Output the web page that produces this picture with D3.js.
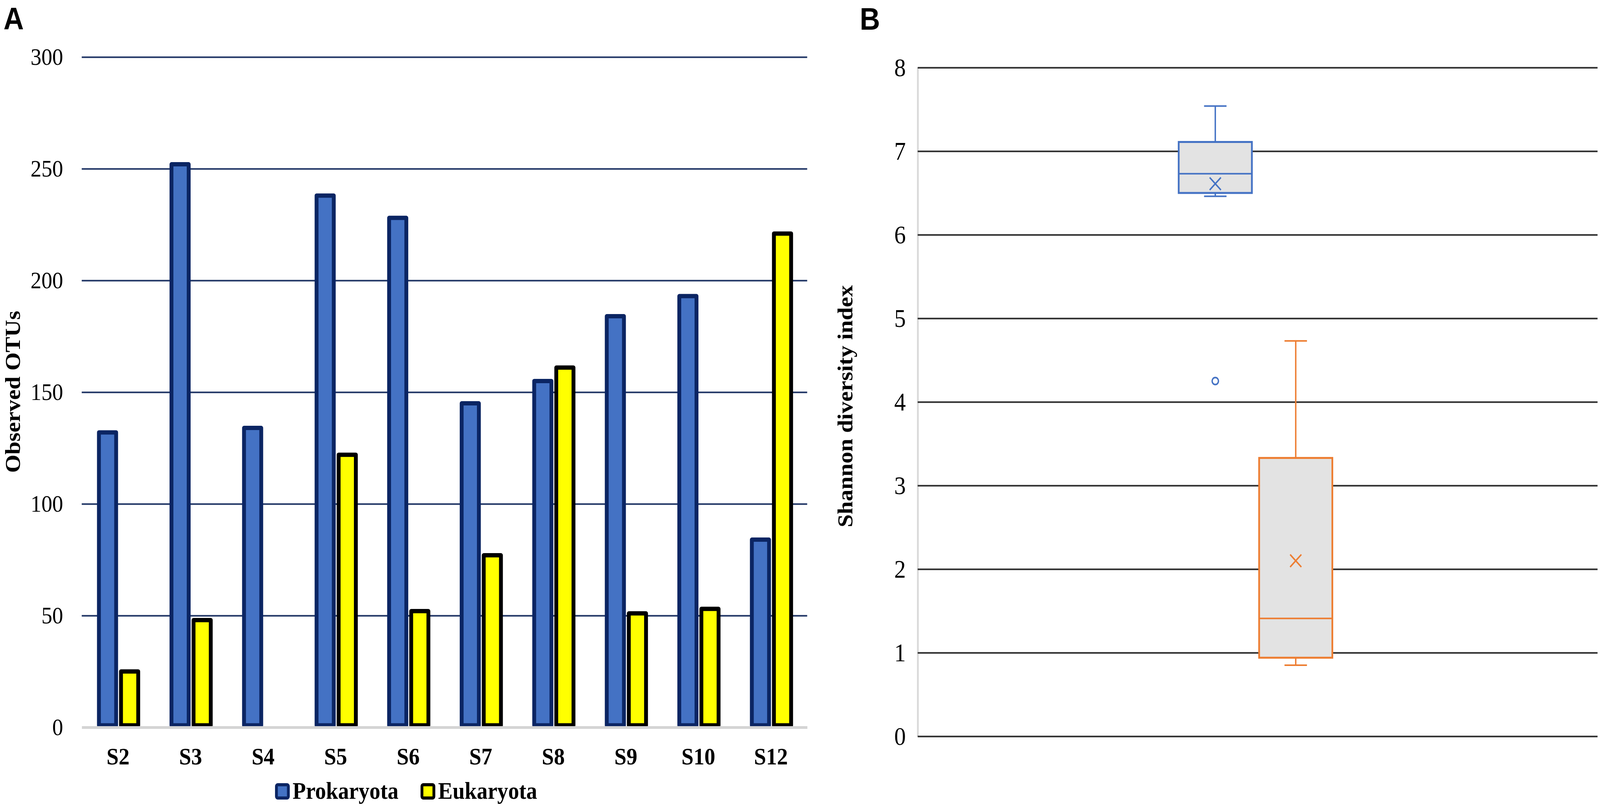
<!DOCTYPE html>
<html lang="en">
<head>
    <meta charset="UTF-8">
    <title>OTUs and Shannon index</title>
    <script src="https://cdn.jsdelivr.net/npm/d3@7"></script>
    <style>
        html, body {
            margin: 0;
            padding: 0;
            overflow: hidden;
            background: #fff;
        }

        svg {
            display: block;
            width: 100vw;
            height: 100vh;
        }

        svg text {
            font-family: "Liberation Serif", "Times New Roman", serif;
            fill: #000;
        }

        svg .panel-tag {
            font-family: "Liberation Sans", Arial, sans-serif;
            font-weight: bold;
            font-size: 80px;
        }

        svg .axis-title {
            font-weight: bold;
            font-size: 60px;
        }
    </style>
</head>
<body>
    <svg viewBox="0 0 4561 2066" preserveAspectRatio="none"></svg>
    <script>
        // panel A data
        var samples = ['S2', 'S3', 'S4', 'S5', 'S6', 'S7', 'S8', 'S9', 'S10', 'S12'];
        var groups = ['Prokaryota', 'Eukaryota'];
        var prokaryota = [132, 252, 134, 238, 228, 145, 155, 184, 193, 84];
        var eukaryota = [25, 48, 0, 122, 52, 77, 161, 51, 53, 221];
        var otuTicks = [0, 50, 100, 150, 200, 250, 300];

        // panel B data (box plot stats)
        var boxMin = [6.46, 0.85];
        var boxQ1 = [6.50, 0.94];
        var boxMedian = [6.73, 1.41];
        var boxQ3 = [7.11, 3.33];
        var boxMax = [7.54, 4.73];
        var boxMean = [6.61, 2.10];
        var outliers = [{ group: 'Prokaryota', value: 4.25 }];
        var shannonTicks = [0, 1, 2, 3, 4, 5, 6, 7, 8];

        var fillColor = { Prokaryota: '#4472c4', Eukaryota: '#ffff00' };
        var edgeColor = { Prokaryota: '#0b2563', Eukaryota: '#000000' };
        var boxColor = { Prokaryota: '#4472c4', Eukaryota: '#ed7d31' };

        var svg = d3.select('svg');

        // ---------- panel A ----------
        var aLeft = 233, aRight = 2301, aTop = 146, aBottom = 1862;

        var x0 = d3.scaleBand().domain(samples).range([aLeft, aRight]);
        var x1 = d3.scaleBand().domain(groups).range([49, 161]).paddingInner(0.22);
        var yA = d3.scaleLinear().domain([0, 300]).range([aBottom, aTop]);

        svg.append('text').attr('class', 'panel-tag').attr('x', 10).attr('y', 75).text('A');

        var gridA = svg.append('g')
            .attr('transform', 'translate(' + aLeft + ',0)')
            .call(d3.axisLeft(yA).tickValues(otuTicks).tickSize(-(aRight - aLeft)).tickPadding(53));
        gridA.select('.domain').remove();
        gridA.selectAll('.tick line')
            .attr('stroke-width', 4)
            .attr('stroke', function(d) { return d === 0 ? 'none' : '#1f3464'; });
        gridA.selectAll('.tick text')
            .attr('font-size', 62)
            .attr('font-family', '"Liberation Serif", serif')
            .attr('fill', '#000');

        var rows = samples.map(function(s, i) {
            return { sample: s, Prokaryota: prokaryota[i], Eukaryota: eukaryota[i] };
        });

        var barGroups = svg.append('g').selectAll('g')
            .data(rows)
            .enter().append('g')
            .attr('transform', function(d) { return 'translate(' + x0(d.sample) + ',0)'; });

        // bottom edge kept a little above the axis so the stroke sits on it
        barGroups.selectAll('rect')
            .data(function(d) {
                return groups.map(function(g) { return { group: g, value: d[g] }; })
                    .filter(function(e) { return e.value > 0; });
            })
            .enter().append('rect')
            .attr('x', function(d) { return x1(d.group); })
            .attr('width', x1.bandwidth())
            .attr('y', function(d) { return yA(d.value); })
            .attr('height', function(d) { return yA(0) - yA(d.value) - 5; })
            .attr('fill', function(d) { return fillColor[d.group]; })
            .attr('stroke', function(d) { return edgeColor[d.group]; })
            .attr('stroke-width', 11)
            .attr('stroke-linejoin', 'round');

        var xAxisA = svg.append('g')
            .attr('transform', 'translate(0,' + aBottom + ')')
            .call(d3.axisBottom(x0).tickSize(0).tickSizeOuter(0).tickPadding(51));
        xAxisA.select('.domain')
            .attr('stroke', '#d4d4d4')
            .attr('stroke-width', 7);
        xAxisA.selectAll('.tick text')
            .attr('font-size', 62)
            .attr('font-weight', 'bold')
            .attr('font-family', '"Liberation Serif", serif')
            .attr('fill', '#000');

        svg.append('text')
            .attr('class', 'axis-title')
            .attr('transform', 'translate(57,1003) rotate(-90)')
            .attr('text-anchor', 'middle')
            .text('Observed OTUs');

        // legend
        var legend = svg.append('g');
        var lx = 788;
        groups.forEach(function(g) {
            legend.append('rect')
                .attr('x', lx).attr('y', 2009)
                .attr('width', 34).attr('height', 34)
                .attr('rx', 4)
                .attr('fill', fillColor[g])
                .attr('stroke', edgeColor[g])
                .attr('stroke-width', 8);
            var t = legend.append('text')
                .attr('x', lx + 46).attr('y', 2045)
                .attr('font-size', 62)
                .attr('font-weight', 'bold')
                .text(g);
            lx += 46 + t.node().getComputedTextLength() + 67;
        });

        // ---------- panel B ----------
        var bLeft = 2616, bRight = 4554, bTop = 173, bBottom = 1885;

        var yB = d3.scaleLinear().domain([0, 8]).range([bBottom, bTop]);
        var xB = d3.scaleBand().domain(groups).range([3360, 3798]).paddingInner(0.09);

        svg.append('text').attr('class', 'panel-tag').attr('x', 2451).attr('y', 76).text('B');

        var gridB = svg.append('g')
            .attr('transform', 'translate(' + bLeft + ',0)')
            .call(d3.axisLeft(yB).tickValues(shannonTicks).tickSize(-(bRight - bLeft)).tickSizeOuter(0).tickPadding(34));
        gridB.select('.domain')
            .attr('stroke', '#d9d9d9')
            .attr('stroke-width', 5);
        gridB.selectAll('.tick line')
            .attr('stroke', '#2b2b2b')
            .attr('stroke-width', 4);
        gridB.selectAll('.tick text')
            .attr('font-size', 66)
            .attr('font-family', '"Liberation Serif", serif')
            .attr('fill', '#000');

        svg.append('text')
            .attr('class', 'axis-title')
            .attr('transform', 'translate(2430,1040) rotate(-90)')
            .attr('text-anchor', 'middle')
            .text('Shannon diversity index');

        var stats = groups.map(function(g, i) {
            return { group: g, min: boxMin[i], q1: boxQ1[i], median: boxMedian[i], q3: boxQ3[i], max: boxMax[i], mean: boxMean[i] };
        });

        var boxes = svg.append('g').selectAll('g')
            .data(stats)
            .enter().append('g')
            .attr('stroke', function(d) { return boxColor[d.group]; })
            .attr('fill', 'none');

        var bw = xB.bandwidth();
        var cap = 32;

        // whiskers
        boxes.append('line')
            .attr('x1', function(d) { return xB(d.group) + bw / 2; })
            .attr('x2', function(d) { return xB(d.group) + bw / 2; })
            .attr('y1', function(d) { return yB(d.max); })
            .attr('y2', function(d) { return yB(d.q3); })
            .attr('stroke-width', 4);
        boxes.append('line')
            .attr('x1', function(d) { return xB(d.group) + bw / 2; })
            .attr('x2', function(d) { return xB(d.group) + bw / 2; })
            .attr('y1', function(d) { return yB(d.q1); })
            .attr('y2', function(d) { return yB(d.min); })
            .attr('stroke-width', 4);
        ['max', 'min'].forEach(function(k) {
            boxes.append('line')
                .attr('x1', function(d) { return xB(d.group) + bw / 2 - cap; })
                .attr('x2', function(d) { return xB(d.group) + bw / 2 + cap; })
                .attr('y1', function(d) { return yB(d[k]); })
                .attr('y2', function(d) { return yB(d[k]); })
                .attr('stroke-width', 4);
        });

        boxes.append('rect')
            .attr('x', function(d) { return xB(d.group); })
            .attr('width', bw)
            .attr('y', function(d) { return yB(d.q3); })
            .attr('height', function(d) { return yB(d.q1) - yB(d.q3); })
            .attr('fill', '#e3e3e3')
            .attr('stroke-width', 5);

        boxes.append('line')
            .attr('x1', function(d) { return xB(d.group); })
            .attr('x2', function(d) { return xB(d.group) + bw; })
            .attr('y1', function(d) { return yB(d.median); })
            .attr('y2', function(d) { return yB(d.median); })
            .attr('stroke-width', 4);

        // mean marker
        var mk = 16;
        boxes.append('path')
            .attr('d', function(d) {
                var cx = xB(d.group) + bw / 2, cy = yB(d.mean);
                return 'M' + (cx - mk) + ',' + (cy - mk) + 'L' + (cx + mk) + ',' + (cy + mk) +
                    'M' + (cx - mk) + ',' + (cy + mk) + 'L' + (cx + mk) + ',' + (cy - mk);
            })
            .attr('stroke-width', 4);

        svg.append('g').selectAll('circle')
            .data(outliers)
            .enter().append('circle')
            .attr('cx', function(d) { return xB(d.group) + bw / 2; })
            .attr('cy', function(d) { return yB(d.value); })
            .attr('r', 9)
            .attr('fill', 'none')
            .attr('stroke', function(d) { return boxColor[d.group]; })
            .attr('stroke-width', 4);
    </script>
</body>
</html>
